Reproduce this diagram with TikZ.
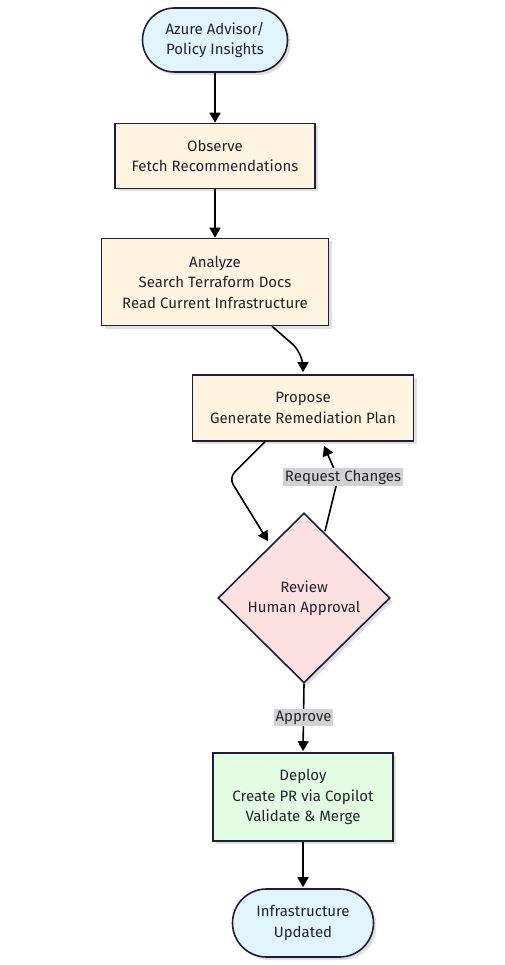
\documentclass[tikz,border=0pt]{standalone}
\usepackage{fontspec}
\setmainfont{Fira Sans}
\usetikzlibrary{arrows.meta,shapes.geometric,shadows,calc}
\definecolor{bordc}{HTML}{1E1E3C}
\definecolor{termfill}{HTML}{E1F5FE}
\definecolor{procfill}{HTML}{FFF4E0}
\definecolor{decfill}{HTML}{FDE1E1}
\definecolor{okfill}{HTML}{E2FDE2}
\definecolor{txt}{HTML}{23232F}
\definecolor{lblbg}{HTML}{D2D2D2}
\begin{document}
\begin{tikzpicture}[x=1pt,y=-1pt,
  base/.style={draw=bordc, line width=1.6pt, text=txt,
    font=\fontsize{15}{20.5}\selectfont, align=center, inner sep=0pt,
    drop shadow={shadow xshift=3pt,shadow yshift=-3pt,fill=black!12,opacity=1}},
  term/.style={base, fill=termfill, rectangle, rounded corners=#1},
  proc/.style={base, fill=procfill, rectangle},
  okbox/.style={base, fill=okfill, rectangle},
  dec/.style={base, fill=decfill, diamond},
  flow/.style={draw=black, line width=1.6pt, -{Triangle[length=10pt,width=11pt]}},
  elabel/.style={fill=lblbg, text=txt, font=\fontsize{15}{17}\selectfont,
    inner xsep=1.5pt, inner ysep=2pt}
]
\useasboundingbox[fill=white] (0,0) rectangle (504,965);

\node[term=32pt, minimum width=145pt, minimum height=64pt] (start) at (215,40) {Azure Advisor/\\Policy Insights};
\node[proc, minimum width=200pt, minimum height=65pt] (observe) at (215,156) {Observe\\Fetch Recommendations};
\node[proc, minimum width=227pt, minimum height=87pt] (analyze) at (215,282) {Analyze\\Search Terraform Docs\\Read Current Infrastructure};
\node[proc, minimum width=221pt, minimum height=66pt] (propose) at (303,408) {Propose\\Generate Remediation Plan};
\node[dec, minimum width=172pt, minimum height=170pt] (review) at (304,598) {Review\\Human Approval};
\node[okbox, minimum width=180pt, minimum height=88pt] (deploy) at (303,797) {Deploy\\Create PR via Copilot\\Validate \& Merge};
\node[term=34pt, minimum width=141pt, minimum height=68pt] (end) at (303,923) {Infrastructure\\Updated};

\draw[flow] (start.south) -- (observe.north);
\draw[flow] (observe.south) -- (analyze.north);
\draw[flow, rounded corners=14pt] ($(analyze.south)+(57,0)$) -- ($(propose.north)+(0,-21)$) -- ($(propose.north)+(0,-2)$);
\draw[flow, rounded corners=8pt] ($(propose.south)+(-38,0)$) -- ($(propose.south)+(-74,36)$) -- ($(review.north)+(-36,29)$);
\draw[flow] ($(review.north)+(21,19)$) -- (338,478) -- ($(propose.south)+(21,4)$);
\node[elabel] (req) at (343,477) {Request Changes};
\draw[flow] (review.south) -- node[elabel] (appr) {Approve} ($(deploy.north)+(0,-1)$);
\draw[flow] (deploy.south) -- ($(end.north)+(0,-1)$);
\end{tikzpicture}
\end{document}
